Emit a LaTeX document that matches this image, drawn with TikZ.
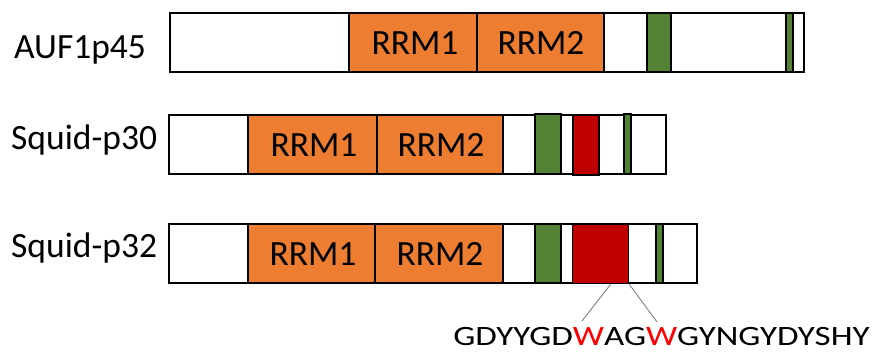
\documentclass[tikz,border=0pt]{standalone}
\usepackage{fontspec}
\setmainfont{Carlito}
\definecolor{rrm}{HTML}{ED7D31}
\definecolor{grn}{HTML}{548235}
\definecolor{redb}{HTML}{C00000}
\definecolor{seqred}{HTML}{FF0000}
\definecolor{linkgrey}{HTML}{7F7F7F}
\tikzset{
  seg/.style={draw=black, line width=1.3pt},
  outerbox/.style={seg, fill=white},
  rrmbox/.style={seg, fill=rrm},
  greenbox/.style={seg, fill=grn},
  redbox/.style={seg, fill=redb},
  domtext/.style={font=\fontsize{35.5}{38}\selectfont, text=black, inner sep=0pt},
  label/.style={font=\fontsize{35.5}{38}\selectfont, text=black, inner sep=0pt, anchor=base west},
  link/.style={draw=linkgrey, line width=0.9pt}
}
\begin{document}
\begin{tikzpicture}[x=1pt,y=-1pt]
\useasboundingbox (0,0) rectangle (874,353);
% Row 1: AUF1p45
\draw[outerbox] (170,13) rectangle (804,72);
\draw[rrmbox] (349,13) rectangle (477,72);
\draw[rrmbox] (477,13) rectangle (604,72);
\draw[greenbox] (647,13) rectangle (671,72);
\draw[greenbox] (786,13) rectangle (793,72);
\node[domtext] (r1a) at (415,43) {RRM1};
\node[domtext] (r1b) at (541,43) {RRM2};
\node[label] (l1) at (14,59) {AUF1p45};
% Row 2: Squid-p30
\draw[outerbox] (169,115) rectangle (666,174);
\draw[rrmbox] (248,115) rectangle (377,174);
\draw[rrmbox] (377,115) rectangle (503,174);
\draw[greenbox] (535,114) rectangle (561,174);
\draw[redbox] (573,115) rectangle (599,175);
\draw[greenbox] (624,114) rectangle (631,174);
\node[domtext] (r2a) at (314,145) {RRM1};
\node[domtext] (r2b) at (441,145) {RRM2};
\node[label] (l2) at (11,149.5) {Squid-p30};
% Row 3: Squid-p32
\draw[outerbox] (169,224) rectangle (697,283);
\draw[rrmbox] (248,224) rectangle (375,283);
\draw[rrmbox] (375,224) rectangle (503,283);
\draw[greenbox] (535,224) rectangle (561,283);
\node[redbox, minimum width=56pt, minimum height=59pt, inner sep=0pt, anchor=north west] (red3) at (572,224) {};
\draw[greenbox] (656,224) rectangle (663,283);
\node[domtext] (r3a) at (313,254) {RRM1};
\node[domtext] (r3b) at (440,254) {RRM2};
\node[label] (l3) at (11,257.5) {Squid-p32};
% Sequence
\node[inner sep=0pt, anchor=base, font=\fontsize{28}{32}\selectfont] (seq) at (661.5,345.5)
  {\scalebox{1.25}[1]{GDYYGD\textcolor{seqred}{W}AG\textcolor{seqred}{W}GYNGYDYSHY}};
\coordinate (e1) at (582,321);
\coordinate (e2) at (657,322);
\draw[link] ([xshift=10pt]red3.south) -- (e1);
\draw[link] (red3.south east) -- (e2);
\end{tikzpicture}
\end{document}
